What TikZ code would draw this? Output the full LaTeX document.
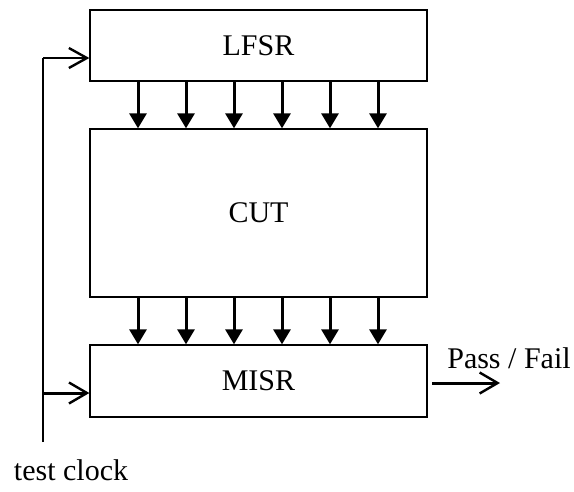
\documentclass[tikz,border=0pt]{standalone}
\usepackage{fontspec}
\setmainfont{Liberation Serif}
\usetikzlibrary{arrows.meta}
\begin{document}
\begin{tikzpicture}[x=1pt,y=-1pt,
  blk/.style={draw,line width=1.3pt,minimum width=337pt,inner sep=0pt,font=\fontsize{30}{30}\selectfont},
  bus/.style={line width=3pt,-{Triangle[length=15pt,width=17pt]}},
  clk/.style={line width=1.5pt,-{Straight Barb[length=18pt,width=20pt,line width=2.4pt]}},
  clkb/.style={line width=3pt,-{Straight Barb[length=18pt,width=21pt,line width=2.4pt]}},
  lbl/.style={font=\fontsize{30}{30}\selectfont,inner sep=0pt}]
\useasboundingbox (0,0) rectangle (574,491);
\node[blk,minimum height=71pt] (lfsr) at (258.5,45.5) {LFSR};
\node[blk,minimum height=168pt] (cut) at (258.5,213) {CUT};
\node[blk,minimum height=72pt] (misr) at (258.5,381) {MISR};
\foreach \x [count=\i] in {138,186,234,282,330,378} {
  \coordinate (bx\i) at (\x,0);
  \draw[bus] (lfsr.south -| bx\i) -- (cut.north -| bx\i);
  \draw[bus] (cut.south -| bx\i) -- (misr.north -| bx\i);
}
\coordinate (ctop) at (43,58);
\coordinate (cmid) at (43,393);
\coordinate (cbot) at (43,442);
\draw[line width=1.5pt] (cbot) -- (ctop);
\draw[clk] (ctop) -- (ctop -| lfsr.west);
\draw[clkb] (cmid) -- (cmid -| misr.west);
\coordinate (pf0) at (432,383);
\coordinate (pf1) at (500,383);
\draw[clkb] (pf0) -- (pf1);
\node[lbl] (pf) at (509,358) {Pass / Fail};
\node[lbl] (tc) at (71,470) {test clock};
\end{tikzpicture}
\end{document}
